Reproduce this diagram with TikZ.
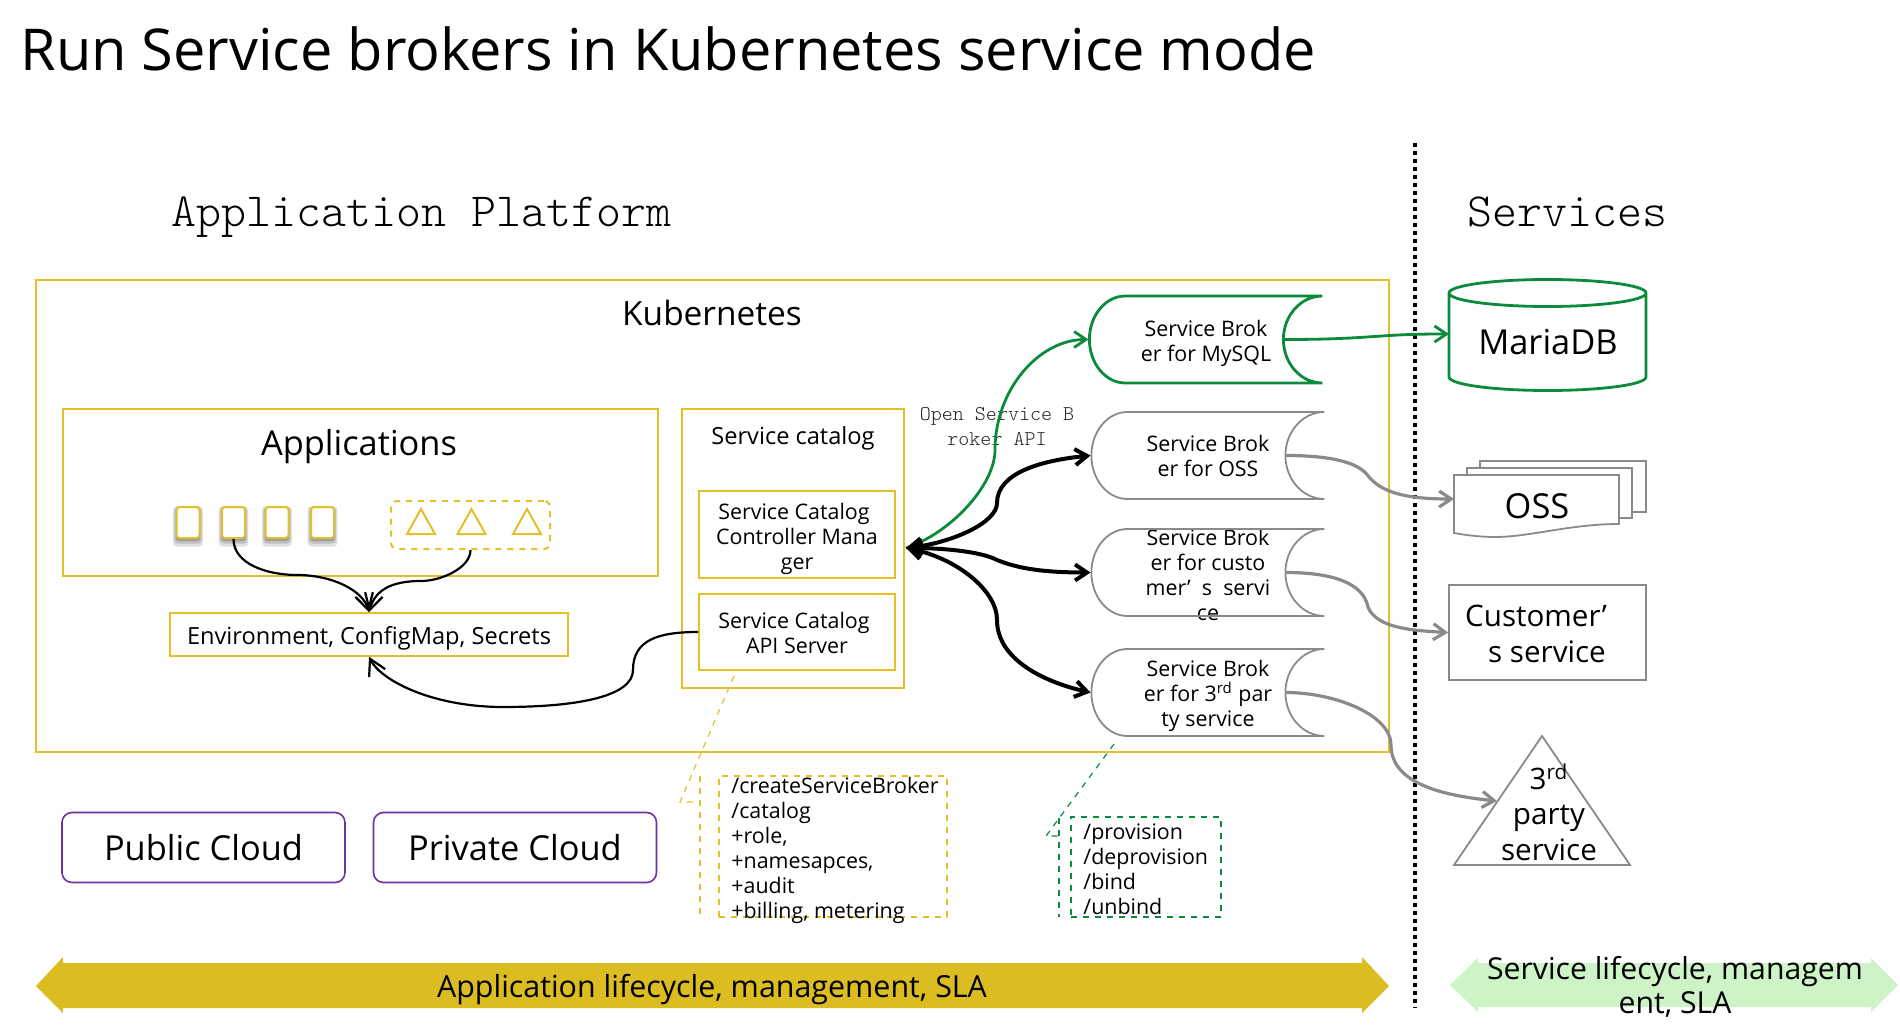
\documentclass[tikz,border=0pt]{standalone}
\usepackage{fontspec}
\setmainfont{Open Sans}
\newfontfamily\monolight{Latin Modern Mono Light}
\usetikzlibrary{arrows.meta,positioning,shadows}
\definecolor{kubeyellow}{HTML}{E3BF2A}
\definecolor{bargold}{HTML}{DBBC21}
\definecolor{barmint}{HTML}{CDF3C7}
\definecolor{dbgreen}{HTML}{0B8A3C}
\definecolor{svcgray}{HTML}{8A8A8A}
\definecolor{cloudpurple}{HTML}{7030A0}
\newcommand{\sized}[1]{\fontsize{#1}{12.5pt}\selectfont}
\newcommand{\brokerpath}[1]{(#1.east) ++(0,-43.5) -- ++(-197,0) arc[x radius=36, y radius=43.5, start angle=270, delta angle=-180] -- ++(197,0) arc[x radius=39, y radius=43.5, start angle=90, delta angle=180]}

\begin{document}
\begin{tikzpicture}[x=0.5pt, y=-0.5pt, >={Straight Barb[length=6pt, width=8pt]}, inner sep=0pt]
	\tikzstyle{frame} = [rectangle, draw = kubeyellow, line width = 1pt]
	\tikzstyle{small} = [align = center, font = \sized{10.7pt}]
	\tikzstyle{medium} = [align = center, font = \sized{11.8pt}]
	\tikzstyle{big} = [align = center, font = \fontsize{17.2pt}{20pt}\selectfont]
	\tikzstyle{broker} = [minimum width = 116.5pt, minimum height = 43.5pt]
	\tikzstyle{pod} = [rectangle, rounded corners = 1.5pt, draw = kubeyellow, line width = 1pt, fill = white, minimum width = 11.5pt, minimum height = 15.5pt,
		drop shadow = {shadow xshift = 0pt, shadow yshift = -1.5pt, shadow scale = 1.3, opacity = 0.12, fill = black},
		drop shadow = {shadow xshift = 0pt, shadow yshift = -1.2pt, shadow scale = 1.18, opacity = 0.15, fill = black},
		drop shadow = {shadow xshift = 0pt, shadow yshift = -1pt, shadow scale = 1.06, opacity = 0.18, fill = black}]
	\tikzstyle{cloudbox} = [rectangle, rounded corners = 5pt, draw = cloudpurple, line width = 0.8pt, minimum width = 141.5pt, minimum height = 35pt]
	\tikzstyle{calm} = [->, >={Straight Barb[length=8pt, width=9pt]}, line width = 1.1pt]
	\tikzstyle{api} = [<->, line width = 2pt, black]
	\tikzstyle{svcflow} = [->, line width = 1.6pt, svcgray]
	\tikzstyle{dbflow} = [->, line width = 1.4pt, dbgreen]
	\tikzstyle{pathtext} = [align = left, font = \sized{10.7pt}]
	\tikzstyle{service} = [align = center, font = \fontsize{14.8pt}{17.7pt}\selectfont]
	\useasboundingbox (0,0) rectangle (1900,1026);

	\node [anchor = west, font = \fontsize{28.85pt}{32pt}\selectfont] (title) at (20,49) {Run Service brokers in Kubernetes service mode};
	\node [anchor = base west, font = \fontsize{23.8pt}{28pt}\monolight] (platform) at (171,227) {Application Platform};
	\node [anchor = base west, font = \fontsize{23.8pt}{28pt}\monolight] (services) at (1467,227) {Services};

	\node [frame, minimum width = 676.5pt, minimum height = 236pt] (kube) at (712.5,516) {};
	\node [align = center, font = \fontsize{16.7pt}{20pt}\selectfont] (kubelabel) at (712,313) {Kubernetes};
	\node [frame, minimum width = 297.5pt, minimum height = 83.5pt] (apps) at (360,492.5) {};
	\node [big] (appslabel) at (359,447) {Applications};
	\foreach \i/\x in {1/188,2/233.5,3/277,4/322.5}
		\node [pod] (pod\i) at (\x,522.5) {};
	\node [rectangle, rounded corners = 3pt, draw = kubeyellow, dashed, line width = 1pt, minimum width = 79.5pt, minimum height = 24pt] (group) at (470.5,525) {};
	\foreach \x in {407,457.5,513}
		\draw [kubeyellow, line width = 1pt] (\x,534) -- ++(14,-25) -- ++(14,25) -- cycle;
	\node [frame, line width = 0.8pt, minimum width = 199pt, minimum height = 21.5pt] (env) at (369,634.5) {};
	\node [medium] (envlabel) at (369,638) {Environment, ConfigMap, Secrets};

	\node [frame, minimum width = 111pt, minimum height = 139.5pt] (catalog) at (793,548.5) {};
	\node [medium] (cataloglabel) at (793,438) {Service catalog};
	\node [frame, minimum width = 98pt, minimum height = 43.5pt] (controller) at (797,534.5) {};
	\node [small] (controllerlabel) at (797,539) {Service Catalog\hspace*{3pt}\\Controller Mana\\ger};
	\node [frame, minimum width = 98pt, minimum height = 38pt] (apiserver) at (797,632) {};
	\node [small] (apilabel) at (797,632.5) {Service Catalog\hspace*{3pt}\\API Server};

	\coordinate (hub) at (906,548);
	\node [font = \fontsize{10.5pt}{12.5pt}\monolight, align = center, text = black!85] (osbapi) at (997,427) {Open Service B\\roker API};

	\node [broker] (bmysql) at (1205.5,339.5) {};
	\node [broker] (boss) at (1207.5,455.5) {};
	\node [broker] (bcustomer) at (1207.5,572.5) {};
	\node [broker] (bthird) at (1207.5,692.5) {};
	\node [small] (bmysqllabel) at (1206,343.5) {Service Brok\\er for MySQL};
	\node [small] (bosslabel) at (1208,455.5) {Service Brok\\er for OSS};
	\node [small] (bcustomerlabel) at (1208,574.5) {Service Brok\\er for custo\\mer’~ s~ servi\\ce};
	\node [small] (bthirdlabel) at (1208,696) {Service Brok\\er for 3\textsuperscript{rd} par\\ty service};
	\draw [dbgreen, line width = 1.4pt] \brokerpath{bmysql};
	\draw [svcgray, line width = 0.9pt] \brokerpath{boss};
	\draw [svcgray, line width = 0.9pt] \brokerpath{bcustomer};
	\draw [svcgray, line width = 0.9pt] \brokerpath{bthird};

	\draw [dbgreen, line width = 1.4pt] (1449,293) -- (1449,377) arc[x radius=98.5, y radius=13.5, start angle=180, delta angle=-180] -- (1646,293) arc[x radius=98.5, y radius=13.5, start angle=0, delta angle=-180] arc[x radius=98.5, y radius=13.5, start angle=180, delta angle=-180];
	\node [big] (mariadb) at (1548,342.5) {MariaDB};
	\coordinate (mariadbin) at (1449,334);

	\draw [svcgray, line width = 0.9pt] (1480,468) -- (1480,461) -- (1646,461) -- (1646,512) -- (1632,512);
	\draw [svcgray, line width = 0.9pt] (1467,475) -- (1467,468) -- (1632,468) -- (1632,518) -- (1619,518);
	\draw [svcgray, line width = 0.9pt] (1454,475) -- (1619,475) -- (1619,524) .. controls (1570,524) and (1530,537) .. (1495,537) .. controls (1480,537) and (1465,535) .. (1454,533) -- cycle;
	\node [big] (oss) at (1537,506) {OSS};
	\coordinate (ossin) at (1454,499);

	\node [rectangle, draw = svcgray, line width = 0.9pt, minimum width = 98.5pt, minimum height = 47.5pt] (customer) at (1547.5,632.5) {};
	\node [service] (customerlabel) at (1547,634) {Customer’\hspace*{11pt}\\s service};

	\draw [svcgray, line width = 0.9pt] (1542,736) -- (1454,865) -- (1630,865) -- cycle;
	\node [service] (third) at (1549,812) {3\textsuperscript{rd}\\party\\service};
	\coordinate (thirdin) at (1497,801);

	\node [cloudbox] (public) at (203.5,847.5) {};
	\node [cloudbox] (private) at (515,847.5) {};
	\node [big] (publiclabel) at (203.5,848) {Public Cloud};
	\node [big] (privatelabel) at (515,848) {Private Cloud};

	\node [rectangle, draw = kubeyellow, dashed, line width = 0.8pt, minimum width = 114pt, minimum height = 70.5pt] (catalogbox) at (833,846.5) {};
	\node [pathtext, anchor = west] (catalogpaths) at (731,850) {/createServiceBroker\\/catalog\\+role,\\+namesapces,\\+audit\\+billing, metering};
	\coordinate (catalogref) at (734,676);
	\coordinate (catalogelbow) at (680,802);
	\coordinate (catalogbar) at (700,802);
	\draw [kubeyellow, dashed, line width = 0.6pt] (catalogref) -- (catalogelbow) -- (catalogbar);
	\draw [kubeyellow, dashed, line width = 0.8pt] (700,776) -- (700,917);

	\node [rectangle, draw = dbgreen, dashed, line width = 0.8pt, minimum width = 75pt, minimum height = 50pt] (brokerbox) at (1146,867) {};
	\node [pathtext, anchor = west] (brokerpaths) at (1083,869) {/provision\\/deprovision\\/bind\\/unbind};
	\coordinate (brokerref) at (1114,744);
	\coordinate (brokerelbow) at (1046,836);
	\coordinate (brokerbar) at (1059,836);
	\draw [dbgreen, dashed, line width = 0.6pt] (brokerref) -- (brokerelbow) -- (brokerbar);
	\draw [dbgreen, dashed, line width = 0.8pt] (1059,818) -- (1059,917);

	\coordinate (divtop) at (1415,143);
	\coordinate (divbot) at (1415,1008);
	\draw [black, line width = 2pt, dash pattern = on 2pt off 2pt] (divtop) -- (divbot);

	\fill [bargold] (36,986) -- (63,957) -- (63,963) -- (1362,963) -- (1362,957) -- (1389,986) -- (1362,1013) -- (1362,1008) -- (63,1008) -- (63,1013) -- cycle;
	\node [align = center, font = \fontsize{15.2pt}{18pt}\selectfont] (appbar) at (712,990) {Application lifecycle, management, SLA};
	\fill [barmint] (1450,985) -- (1478,958) -- (1478,963) -- (1871,963) -- (1871,958) -- (1898,985) -- (1871,1012) -- (1871,1007) -- (1478,1007) -- (1478,1012) -- cycle;
	\node [align = center, font = \fontsize{15.1pt}{16.7pt}\selectfont] (svcbar) at (1675,987) {Service lifecycle, managem\\ent, SLA};

	\draw [calm] (pod2.south) .. controls +(0,25) and +(-30,0) .. (297,575) .. controls +(35,0) and +(-6,-22) .. (env.north);
	\draw [calm] (group.south) .. controls +(0,18) and +(20,0) .. (421,581) .. controls +(-30,0) and +(6,-22) .. (env.north);
	\draw [calm] (apiserver.west |- 0,632) .. controls +(-40,0) and +(0,-30) .. (633,670) .. controls +(0,25) and +(80,0) .. (503,707) .. controls +(-70,0) and +(12,24) .. (env.south);

	\draw [dbflow] (hub) .. controls +(45,-15) and +(0,35) .. (995,450) .. controls +(0,-60) and +(-50,0) .. (bmysql.west);
	\draw [api] (hub) .. controls +(45,-5) and +(0,20) .. (997,503) .. controls +(0,-30) and +(-50,5) .. (boss.west);
	\draw [api] (hub) .. controls +(40,0) and +(-15,-8) .. (997,560) .. controls +(20,8) and +(-50,0) .. (bcustomer.west);
	\draw [api] (hub) .. controls +(50,10) and +(0,-30) .. (997,620) .. controls +(0,40) and +(-45,-10) .. (bthird.west);

	\draw [dbflow] ([xshift = -19.5pt]bmysql.east) .. controls +(30,0) and +(-30,2) .. (1367,337) .. controls +(30,-2) and +(-40,0) .. (mariadbin);
	\draw [svcflow] ([xshift = -19.5pt]boss.east) .. controls +(45,0) and +(-10,-15) .. (1369,477) .. controls +(15,18) and +(-40,0) .. (ossin);
	\draw [svcflow] ([xshift = -19.5pt]bcustomer.east) .. controls +(45,0) and +(-5,-25) .. (1368,607) .. controls +(8,20) and +(-40,-2) .. (customer.west);
	\draw [svcflow] ([xshift = -19.5pt]bthird.east) .. controls +(50,0) and +(0,-30) .. (1391,745) .. controls +(0,40) and +(-50,-5) .. (thirdin);
\end{tikzpicture}
\end{document}
